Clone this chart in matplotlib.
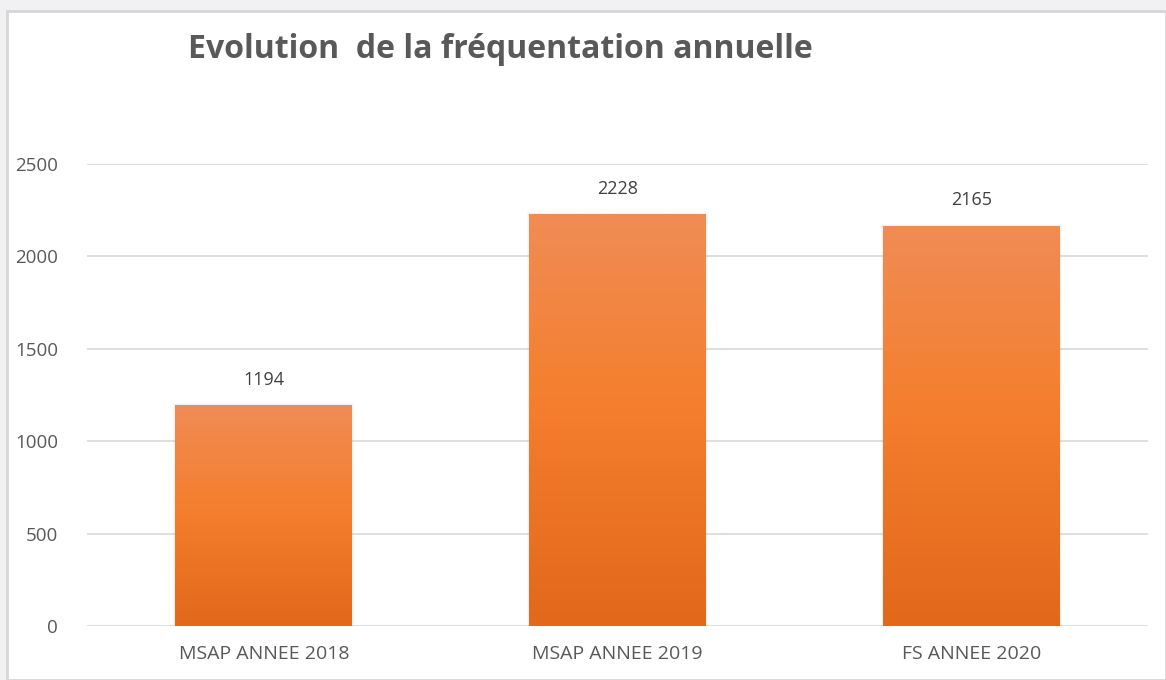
import matplotlib
matplotlib.use("Agg")
import matplotlib.pyplot as plt
import numpy as np
from matplotlib.patches import Rectangle
from matplotlib.colors import LinearSegmentedColormap

categories = ["MSAP ANNEE 2018", "MSAP ANNEE 2019", "FS ANNEE 2020"]
values = [1194, 2228, 2165]
yticks = [0, 500, 1000, 1500, 2000, 2500]
title = "Evolution  de la fréquentation annuelle"

plt.rcParams['font.family'] = ['Open Sans', 'DejaVu Sans']

W, H = 1166, 680
fig = plt.figure(figsize=(W / 100, H / 100), dpi=100)
fig.patch.set_facecolor('#f1f1f3')

# white chart area with border
fig.patches.append(Rectangle((7 / W, 0), (W - 7) / W, (H - 11) / H,
                             transform=fig.transFigure, facecolor='white',
                             edgecolor='#d6d6d6', linewidth=2, zorder=-5))

ax = fig.add_axes([87 / W, 1 - 626 / H, (1148 - 87) / W, (626 - 164) / H])
ax.set_zorder(1)
ax.set_facecolor('none')
x = np.arange(len(categories))
ax.set_xlim(-0.5, len(categories) - 0.5)
ax.set_ylim(0, 2500)

ax.set_yticks(yticks)
ax.set_yticklabels([str(t) for t in yticks])
ax.grid(axis='y', color='#d9d9d9', linewidth=1.2)
ax.set_axisbelow(True)
for s in ax.spines.values():
    s.set_visible(False)
ax.tick_params(axis='both', length=0, colors='#595959')
ax.tick_params(axis='y', pad=21, labelsize=13.5)
ax.tick_params(axis='x', pad=14, labelsize=14)
ax.set_xticks(x)
ax.set_xticklabels(categories)

cmap = LinearSegmentedColormap.from_list('g', [(0, '#e2681a'), (0.55, '#f47f2e'), (1, '#f08c55')])
grad = np.linspace(0, 1, 512).reshape(-1, 1)
bars = ax.bar(x, values, width=0.5, color='none', zorder=3)
for b, v in zip(bars, values):
    bx, bw = b.get_x(), b.get_width()
    # soft shadow
    for k, a in [(4, 0.02), (2, 0.035)]:
        ax.add_patch(Rectangle((bx - k * 0.0015, 0), bw + 2 * k * 0.0015, v + k * 3,
                               facecolor='black', alpha=a, edgecolor='none', zorder=2))
    im = ax.imshow(grad, extent=[bx, bx + bw, 0, v], origin='lower', cmap=cmap,
                   aspect='auto', zorder=3, interpolation='bilinear')
    im.set_clip_path(b)
    ax.text(b.get_x() + bw / 2, v + 90, str(v), ha='center', va='bottom',
            fontsize=13, color='#404040')

fig.text(500 / W, 1 - 50 / H, title, ha='center', va='center', fontsize=23,
         fontweight='bold', color='#595959')

fig.savefig('out.png', dpi=100, facecolor=fig.get_facecolor())
